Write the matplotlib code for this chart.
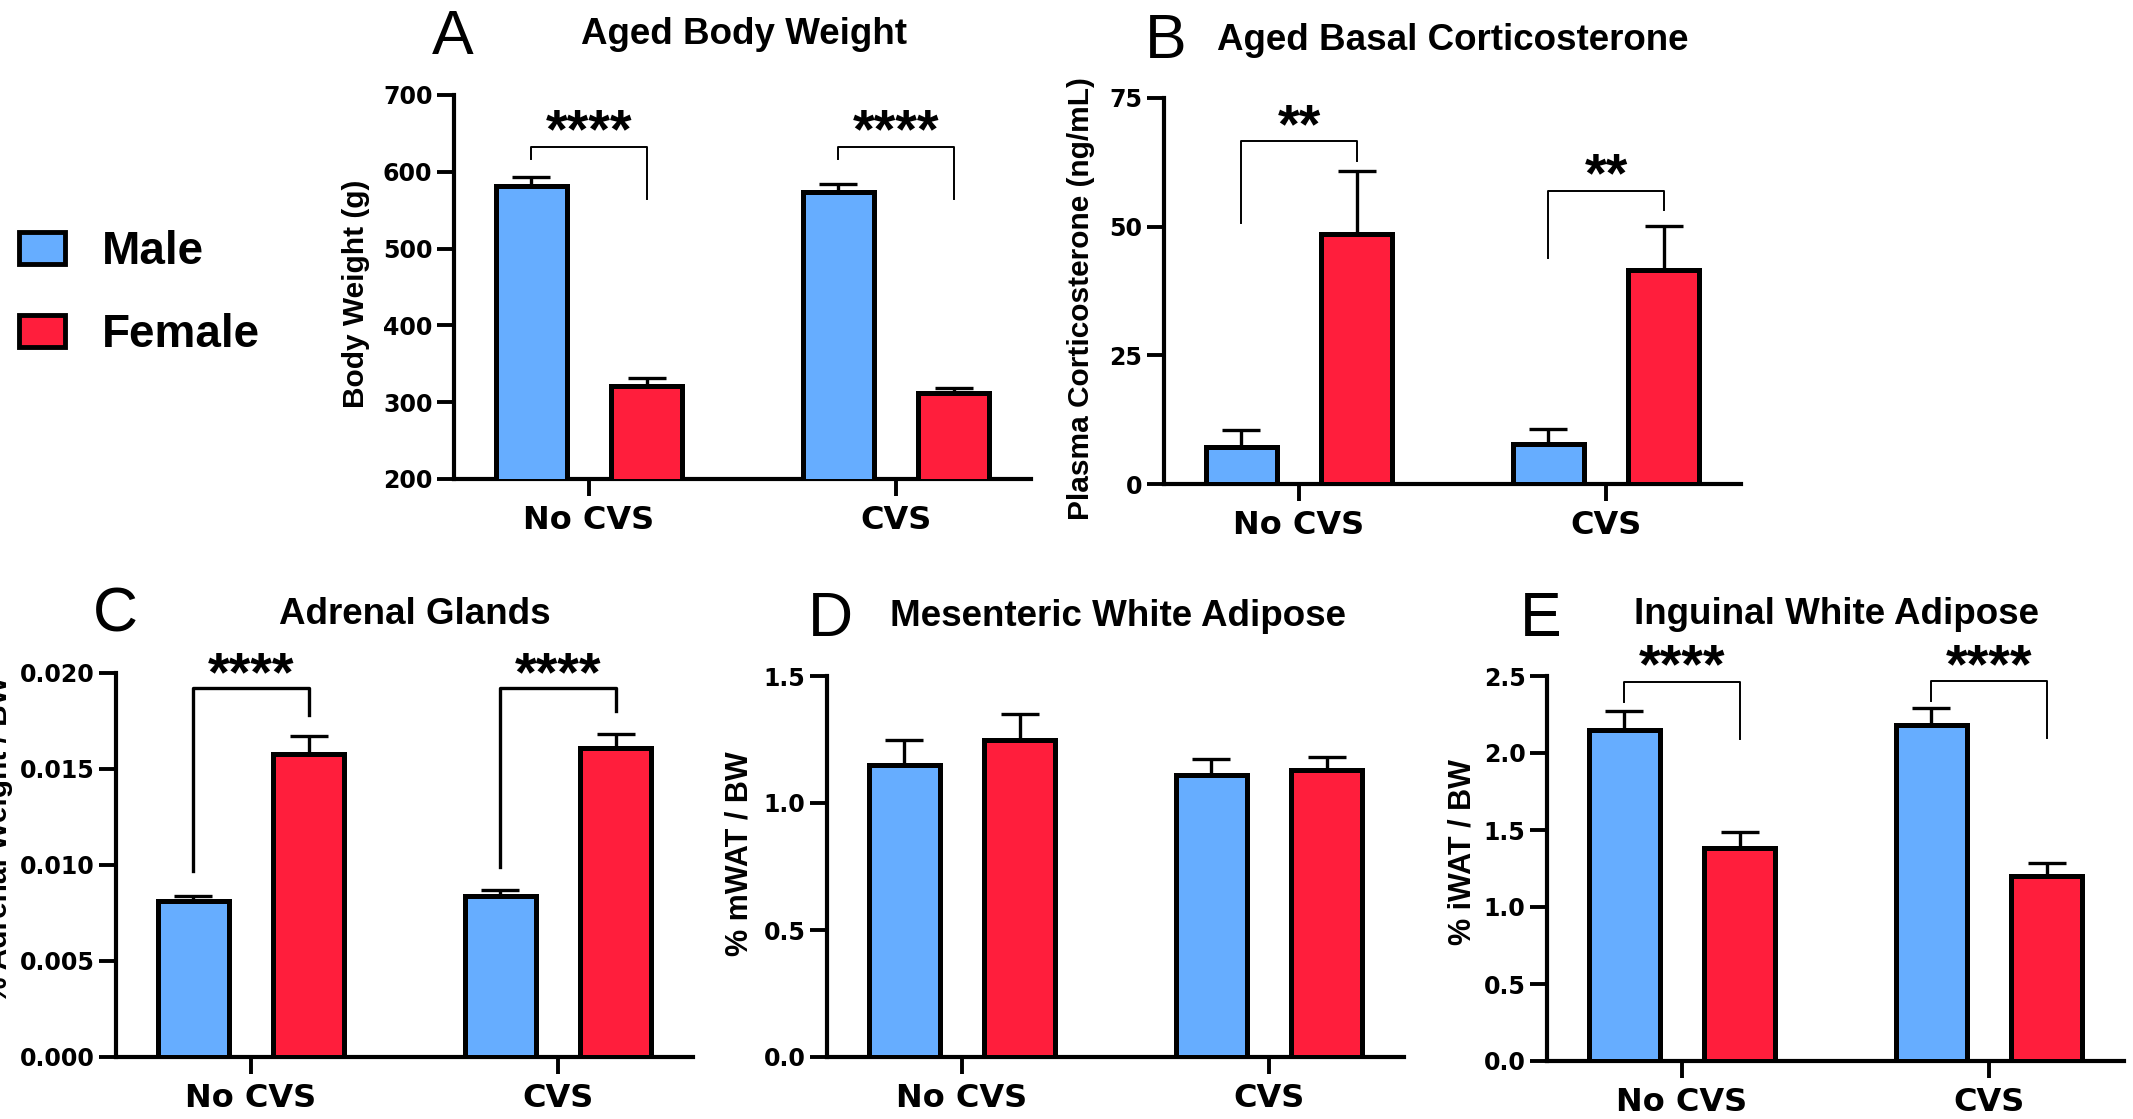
import matplotlib
matplotlib.use('Agg')
import matplotlib.pyplot as plt
from matplotlib.patches import Patch

W, H = 2133, 1119
plt.rcParams['font.family'] = ['Liberation Sans', 'DejaVu Sans']
plt.rcParams['font.weight'] = 'bold'

blue = '#66adff'
red = '#ff1e3c'

groups = ['No CVS', 'CVS']

# A - body weight (g)
bw_male = [582, 574]
bw_male_err = [11, 10]
bw_female = [321, 312]
bw_female_err = [10, 7]

# B - corticosterone (ng/mL)
cort_male = [7.1, 7.8]
cort_male_err = [3.3, 2.9]
cort_female = [48.5, 41.5]
cort_female_err = [12.4, 8.6]

# C - adrenal weight / BW
adr_male = [0.0081, 0.0084]
adr_male_err = [0.0003, 0.0003]
adr_female = [0.0158, 0.0161]
adr_female_err = [0.0009, 0.0007]

# D - mWAT / BW
mwat_male = [1.15, 1.11]
mwat_male_err = [0.10, 0.065]
mwat_female = [1.25, 1.13]
mwat_female_err = [0.10, 0.053]

# E - iWAT / BW
iwat_male = [2.15, 2.18]
iwat_male_err = [0.12, 0.11]
iwat_female = [1.38, 1.20]
iwat_female_err = [0.11, 0.085]

# significance brackets: (top, left leg end, right leg end, star y, label) per group
sig_a = [(632, 617, 564, 665, '****'), (632, 617, 564, 665, '****')]
sig_b = [(66.6, 50.7, 62.7, 71.3, '**'), (57.0, 43.9, 53.2, 61.8, '**')]
sig_c = [(0.0192, 0.0097, 0.0178, 0.0204, '****'), (0.0192, 0.0099, 0.0180, 0.0204, '****')]
sig_e = [(2.46, 2.33, 2.09, 2.62, '****'), (2.466, 2.339, 2.097, 2.62, '****')]

fig = plt.figure(figsize=(W / 100, H / 100), dpi=100)

off = 0.188
bw = 0.232
tickfont = {'family': 'DejaVu Sans', 'weight': 'bold'}


def px_axes(l, t, r, b):
    return fig.add_axes([l / W, 1 - b / H, (r - l) / W, (b - t) / H])


def panel(ax, male, male_err, female, female_err, ylim, yticks, fmt, sig=None, blw=1.4):
    x = range(len(groups))
    xm = [i - off for i in x]
    xf = [i + off for i in x]
    ax.bar(xm, male, width=bw, color=blue, edgecolor='black', linewidth=3.6, zorder=3)
    ax.bar(xf, female, width=bw, color=red, edgecolor='black', linewidth=3.6, zorder=3)
    ax.errorbar(xm, male, yerr=[[0] * len(male), male_err], fmt='none', ecolor='black',
                elinewidth=2.4, capsize=13.5, capthick=2.4, zorder=2)
    ax.errorbar(xf, female, yerr=[[0] * len(female), female_err], fmt='none', ecolor='black',
                elinewidth=2.4, capsize=13.5, capthick=2.4, zorder=2)
    ax.set_xlim(-0.44, 1.44)
    ax.set_ylim(*ylim)
    ax.set_yticks(yticks)
    ax.set_yticklabels([fmt.format(v) for v in yticks], fontsize=17, fontdict=tickfont)
    ax.set_xticks(list(x))
    ax.set_xticklabels(groups, fontsize=23, fontdict=tickfont)
    for s in ['top', 'right']:
        ax.spines[s].set_visible(False)
    for s in ['left', 'bottom']:
        ax.spines[s].set_linewidth(3.0)
    ax.tick_params(axis='both', direction='out', length=12, width=2.8)
    ax.tick_params(axis='x', pad=7)
    ax.tick_params(axis='y', pad=3.5)
    if sig:
        for i, (top, yl, yr, ys, lab) in enumerate(sig):
            ax.plot([i - off, i - off, i + off, i + off], [yl, top, top, yr],
                    color='black', lw=blw, clip_on=False, zorder=4)
            ax.annotate(lab, xy=(i, ys), xytext=(0, -18), textcoords='offset points',
                        ha='center', va='baseline', fontsize=40, annotation_clip=False)


def ylabel(ax, text, x, y, size=21.5):
    ax.set_ylabel(text, fontsize=size, fontweight='bold')
    ax.yaxis.label.set_va('center')
    ax.yaxis.set_label_coords(x / W, 1 - y / H, transform=fig.transFigure)


axA = px_axes(454, 95, 1031, 479)
panel(axA, bw_male, bw_male_err, bw_female, bw_female_err, (200, 700),
      [200, 300, 400, 500, 600, 700], '{:.0f}', sig_a)
ylabel(axA, 'Body Weight (g)', 356, 294)

axB = px_axes(1164, 98, 1741, 484)
panel(axB, cort_male, cort_male_err, cort_female, cort_female_err, (0, 75),
      [0, 25, 50, 75], '{:.0f}', sig_b)
ylabel(axB, 'Plasma Corticosterone (ng/mL)', 1081, 299)

axC = px_axes(116, 673, 693, 1057)
panel(axC, adr_male, adr_male_err, adr_female, adr_female_err, (0, 0.020),
      [0.000, 0.005, 0.010, 0.015, 0.020], '{:.3f}', sig_c, blw=2.4)
ylabel(axC, '% Adrenal Weight / BW', -1, 840)

axD = px_axes(827, 676, 1404, 1057)
panel(axD, mwat_male, mwat_male_err, mwat_female, mwat_female_err, (0, 1.5),
      [0.0, 0.5, 1.0, 1.5], '{:.1f}')
ylabel(axD, '% mWAT / BW', 739, 854, 22)

axE = px_axes(1547, 676, 2124, 1061)
panel(axE, iwat_male, iwat_male_err, iwat_female, iwat_female_err, (0, 2.5),
      [0.0, 0.5, 1.0, 1.5, 2.0, 2.5], '{:.1f}', sig_e)
ylabel(axE, '% iWAT / BW', 1462, 852, 22)

# titles and panel letters
titles = [('Aged Body Weight', 744, 34), ('Aged Basal Corticosterone', 1453, 41),
          ('Adrenal Glands', 415, 615), ('Mesenteric White Adipose', 1118, 617),
          ('Inguinal White Adipose', 1836, 615)]
letters = [('A', 453, 38), ('B', 1166, 42), ('C', 115, 615), ('D', 830, 619), ('E', 1541, 619)]
for t, x, y in titles:
    fig.text(x / W, 1 - y / H, t, fontsize=26.5, ha='center', va='center')
for t, x, y in letters:
    fig.text(x / W, 1 - y / H, t, fontsize=45, fontweight='normal', ha='center', va='center')

handles = [Patch(facecolor=blue, edgecolor='black', linewidth=3.5, label='Male'),
           Patch(facecolor=red, edgecolor='black', linewidth=3.5, label='Female')]
fig.legend(handles=handles, loc='upper left', bbox_to_anchor=(19 / W, 1 - 230 / H),
           frameon=False, fontsize=33, handlelength=1.0, handleheight=0.7,
           labelspacing=0.85, handletextpad=0.8, borderpad=0, borderaxespad=0)

fig.savefig('out.png', dpi=100)
